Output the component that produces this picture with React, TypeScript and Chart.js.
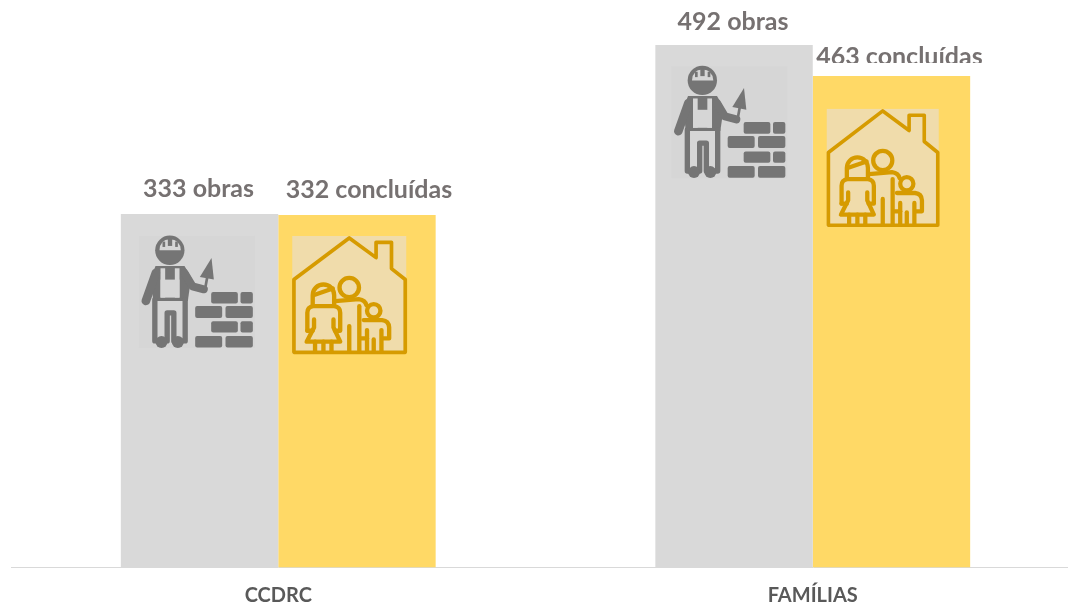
import React, { useEffect, useRef } from "react";
import { Chart, registerables } from "chart.js";

Chart.register(...registerables);

const categories = ["CCDRC", "FAMÍLIAS"];
const obras = [333, 492];
const concluidas = [332, 463];
const obrasLabels = ["333 obras", "492 obras"];
const concluidasLabels = ["332 concluídas", "463 concluídas"];

const GREY = "#D9D9D9";
const YELLOW = "#FFD966";
const TEXT = "#767171";
const FONT = "Lato, 'Open Sans', sans-serif";

type Ctx = CanvasRenderingContext2D;

function line(c: Ctx, pts: number[][], close = false) {
  c.beginPath();
  pts.forEach((p, i) => (i ? c.lineTo(p[0], p[1]) : c.moveTo(p[0], p[1])));
  if (close) c.closePath();
  c.stroke();
}

// Both icons are sketched in the reference's 3x zoom units, tile origin at (0,0).
function drawWorker(c: Ctx, x: number, y: number) {
  c.save();
  c.fillStyle = "#D6D6D6";
  c.fillRect(x, y, 116, 112);
  c.translate(x, y);
  c.scale(1 / 3, 1 / 3);
  c.translate(-85, -197);
  const d = "#757575";
  const l = "#D6D6D6";
  c.fillStyle = d;
  c.strokeStyle = d;
  c.lineCap = "round";
  c.lineJoin = "round";
  // head + helmet
  c.beginPath(); c.arc(178, 240, 44, 0, Math.PI * 2); c.fill();
  c.fillStyle = l;
  c.beginPath(); c.moveTo(147, 240); c.quadraticCurveTo(148, 208, 178, 207); c.quadraticCurveTo(209, 208, 211, 240); c.closePath(); c.fill();
  c.fillStyle = d;
  c.fillRect(172, 203, 13, 24); c.fillRect(156, 214, 8, 16); c.fillRect(194, 214, 8, 16);
  // shoulders/torso
  c.beginPath();
  c.moveTo(135, 287); c.lineTo(222, 287); c.lineTo(242, 322); c.lineTo(232, 392); c.lineTo(128, 392); c.lineTo(122, 322); c.closePath(); c.fill();
  c.fillStyle = l;
  c.fillRect(150, 294, 14, 88); c.fillRect(193, 294, 14, 88); c.fillRect(150, 328, 57, 54);
  c.fillStyle = d;
  // arms
  c.lineWidth = 26;
  line(c, [[136, 308], [106, 392]]);
  c.lineWidth = 24;
  line(c, [[222, 308], [246, 348], [280, 357]]);
  // trowel
  c.beginPath(); c.moveTo(303, 263); c.lineTo(268, 320); c.lineTo(310, 328); c.closePath(); c.fill();
  c.lineWidth = 8;
  line(c, [[290, 322], [284, 355]]);
  // overalls and legs
  c.lineWidth = 16;
  line(c, [[133, 388], [133, 512], [170, 512], [170, 428], [190, 428], [190, 512], [224, 512], [224, 388]]);
  c.beginPath(); c.arc(153, 515, 18, 0, Math.PI * 2); c.fill();
  c.beginPath(); c.arc(202, 515, 18, 0, Math.PI * 2); c.fill();
  // bricks
  [
    [302, 365, 80, 35], [390, 365, 37, 35],
    [254, 407, 81, 36], [345, 407, 82, 36],
    [302, 453, 80, 34], [390, 453, 37, 34],
    [254, 497, 81, 35], [345, 497, 82, 35],
  ].forEach(([bx, by, bw, bh]) => {
    c.beginPath(); c.roundRect(bx, by, bw, bh, 6); c.fill();
  });
  c.restore();
}

function drawHouse(c: Ctx, x: number, y: number, w: number, h: number) {
  c.save();
  c.fillStyle = "#F0DCAB";
  c.fillRect(x, y, w, h);
  c.translate(x, y);
  c.scale(w / 340, h / 355);
  c.translate(-547, -197);
  c.strokeStyle = "#D69B00";
  c.lineCap = "round";
  c.lineJoin = "round";
  c.lineWidth = 11;
  line(c, [[552, 547], [552, 328], [717, 203], [797, 262], [797, 216], [843, 216], [843, 295], [884, 328], [884, 547]], true);
  c.lineWidth = 13;
  // man
  c.beginPath(); c.arc(717, 352, 29, 0, Math.PI * 2); c.stroke();
  c.beginPath(); c.moveTo(675, 393); c.lineTo(745, 387); c.quadraticCurveTo(765, 390, 768, 405); c.stroke();
  line(c, [[717, 468], [717, 545]]);
  line(c, [[747, 408], [747, 545]]);
  // woman
  c.beginPath(); c.moveTo(608, 405); c.lineTo(608, 378); c.arc(640, 375, 32, Math.PI, 0); c.lineTo(672, 405); c.stroke();
  line(c, [[610, 375], [668, 355]]);
  c.beginPath(); c.moveTo(592, 482); c.lineTo(592, 428); c.quadraticCurveTo(592, 410, 610, 408); c.lineTo(672, 408); c.quadraticCurveTo(690, 410, 690, 428); c.lineTo(690, 482); c.lineTo(674, 482); c.stroke();
  line(c, [[612, 448], [612, 472], [590, 515], [690, 515], [670, 472], [670, 448]]);
  line(c, [[592, 482], [608, 482]]);
  [615, 640, 664].forEach((v) => line(c, [[v, 515], [v, 545]]));
  // child
  c.beginPath(); c.arc(790, 422, 20, 0, Math.PI * 2); c.stroke();
  c.beginPath(); c.moveTo(752, 505); c.lineTo(770, 505); c.stroke();
  c.beginPath(); c.moveTo(760, 450); c.lineTo(815, 450); c.quadraticCurveTo(835, 452, 836, 472); c.lineTo(836, 505); c.lineTo(815, 505); c.stroke();
  line(c, [[770, 480], [770, 545]]);
  line(c, [[790, 508], [790, 545]]);
  line(c, [[813, 480], [813, 545]]);
  c.restore();
}

const iconsPlugin = {
  id: "icons",
  afterDatasetsDraw(chart: any) {
    const c: Ctx = chart.ctx;
    const g = chart.getDatasetMeta(0).data;
    const y = chart.getDatasetMeta(1).data;
    const wx = [18, 16];
    const wy = [22, 21];
    const hy = [21, 33];
    const hw = [114, 112];
    const hh = [118, 118];
    g.forEach((b: any, i: number) => {
      drawWorker(c, b.x - b.width / 2 + wx[i], b.y + wy[i]);
    });
    y.forEach((b: any, i: number) => {
      drawHouse(c, b.x - b.width / 2 + 14, b.y + hy[i], hw[i], hh[i]);
    });
  },
};

const labelsPlugin = {
  id: "valueLabels",
  afterDatasetsDraw(chart: any) {
    const c: Ctx = chart.ctx;
    const sets = [
      { meta: chart.getDatasetMeta(0), text: obrasLabels, dx: [-1, -1], dy: [25, 23] },
      { meta: chart.getDatasetMeta(1), text: concluidasLabels, dx: [12, 8], dy: [25, 19] },
    ];
    c.save();
    c.font = `bold 25px ${FONT}`;
    c.fillStyle = TEXT;
    c.textAlign = "center";
    c.textBaseline = "middle";
    sets.forEach((s, si) => {
      s.meta.data.forEach((b: any, i: number) => {
        c.save();
        // the second family's label is cut off above its bar in the reference
        if (si === 1 && i === 1) {
          c.beginPath();
          c.rect(b.x - 100 + 8, 0, 200, 63);
          c.clip();
        }
        c.fillText(s.text[i], b.x + s.dx[i], b.y - s.dy[i]);
        c.restore();
      });
    });
    c.restore();
  },
};

export default function App() {
  const ref = useRef<HTMLCanvasElement | null>(null);
  useEffect(() => {
    document.body.style.margin = "0";
    const chart = new Chart(ref.current!, {
      type: "bar",
      data: {
        labels: categories,
        datasets: [
          { label: "Obras", data: obras, backgroundColor: GREY, categoryPercentage: 0.589, barPercentage: 1 },
          { label: "Concluídas", data: concluidas, backgroundColor: YELLOW, categoryPercentage: 0.589, barPercentage: 1 },
        ],
      },
      options: {
        animation: false,
        responsive: false,
        layout: { padding: { left: 11, right: 0, top: 0, bottom: 0 } },
        plugins: { legend: { display: false }, tooltip: { enabled: false } },
        scales: {
          x: {
            grid: { display: false, drawTicks: false },
            border: { display: true, color: "#D9D9D9", width: 1 },
            ticks: { color: "#595959", font: { family: FONT, size: 20, weight: "bold" }, padding: 16, maxRotation: 0 },
            afterFit(scale: any) { scale.height = 38.5; },
          },
          y: { display: false, min: 0, max: 534.5 },
        },
      },
      plugins: [iconsPlugin, labelsPlugin],
    } as any);
    return () => chart.destroy();
  }, []);
  return (
    <div style={{ width: 1068, height: 606, overflow: "hidden", position: "relative" }}>
      <canvas ref={ref} width={1080} height={606} style={{ display: "block" }} />
    </div>
  );
}
